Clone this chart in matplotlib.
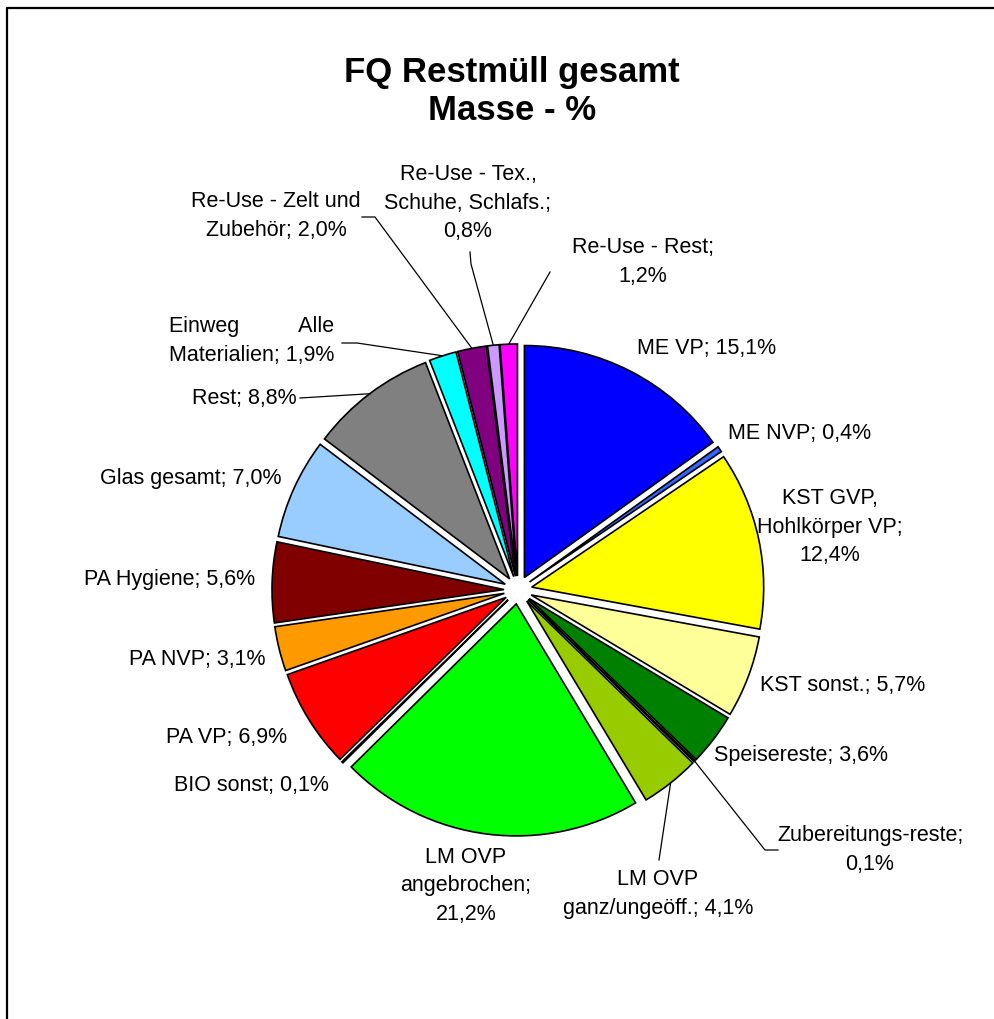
import numpy as np
import matplotlib.pyplot as plt

plt.rcParams["font.family"] = ["Liberation Sans", "DejaVu Sans"]

# data
labels = ["ME VP; 15,1%", "ME NVP; 0,4%", "KST GVP,\nHohlkörper VP;\n12,4%",
          "KST sonst.; 5,7%", "Speisereste; 3,6%", "Zubereitungs-reste;\n0,1%",
          "LM OVP\nganz/ungeöff.; 4,1%", "LM OVP\nangebrochen;\n21,2%",
          "BIO sonst; 0,1%", "PA VP; 6,9%", "PA NVP; 3,1%", "PA Hygiene; 5,6%",
          "Glas gesamt; 7,0%", "Rest; 8,8%", "Einweg          Alle\nMaterialien; 1,9%",
          "Re-Use - Zelt und\nZubehör; 2,0%", "Re-Use - Tex.,\nSchuhe, Schlafs.;\n0,8%",
          "Re-Use - Rest;\n1,2%"]
values = [15.1, 0.4, 12.4, 5.7, 3.6, 0.1, 4.1, 21.2, 0.1, 6.9, 3.1, 5.6,
          7.0, 8.8, 1.9, 2.0, 0.8, 1.2]
colors = ["#0000FF", "#3366FF", "#FFFF00", "#FFFF99", "#008000", "#008080",
          "#99CC00", "#00FF00", "#C0C0C0", "#FF0000", "#FF9900", "#800000",
          "#99CCFF", "#808080", "#00FFFF", "#800080", "#CC99FF", "#FF00FF"]

W, H = 995, 1019

# label centres in picture pixels (x right, y down)
label_pos = [(707, 348), (800, 433), (830, 527), (843, 685), (801, 756),
             (870, 850), (658, 894), (466, 886), (251, 785), (227, 738),
             (197, 660), (170, 580), (191, 478), (244, 398), (252, 341),
             (276, 216), (468, 203), (643, 262)]
# leader lines: index -> points on the text side (pixels)
leaders = {5: [(778, 850), (765, 850)],
           6: [(659, 860)],
           13: [(300, 398)],
           14: [(342, 343), (357, 343)],
           15: [(362, 217), (375, 217)],
           16: [(470, 252), (471, 264)],
           17: [(550, 272)]}


def P(x, y):
    return x, H - y


fig = plt.figure(figsize=(W / 100, H / 100), dpi=100)
ax = fig.add_axes([0, 0, 1, 1])

R = 232
gap = 14  # explode offset in pixels (pie uses absolute units)
wedges, _ = ax.pie(values, colors=colors, startangle=90, counterclock=False,
                   radius=R, center=P(518, 590), explode=[gap] * len(values),
                   wedgeprops=dict(edgecolor="black", linewidth=1.2),
                   frame=True)
ax.set_xlim(0, W)
ax.set_ylim(0, H)
ax.set_aspect("equal")
ax.axis("off")

for i, lab in enumerate(labels):
    x, y = P(*label_pos[i])
    ax.text(x, y, lab, fontsize=15.5, ha="center", va="center",
            multialignment="center", linespacing=1.45)

for i, pts in leaders.items():
    w = wedges[i]
    th = np.deg2rad((w.theta1 + w.theta2) / 2)
    ex = w.center[0] + w.r * np.cos(th)
    ey = w.center[1] + w.r * np.sin(th)
    xs = [P(*p)[0] for p in pts] + [ex]
    ys = [P(*p)[1] for p in pts] + [ey]
    ax.plot(xs, ys, color="black", lw=0.9)

ax.text(*P(512, 72), "FQ Restmüll gesamt", fontsize=25, fontweight="bold",
        ha="center", va="center")
ax.text(*P(512, 110), "Masse - %", fontsize=25, fontweight="bold",
        ha="center", va="center")

# chart frame (only top and left edges are inside the picture)
ax.plot([7, 7, W], [0, H - 7.5, H - 7.5], color="black", lw=1.6)

plt.savefig("out.png", dpi=100)
plt.close("all")
